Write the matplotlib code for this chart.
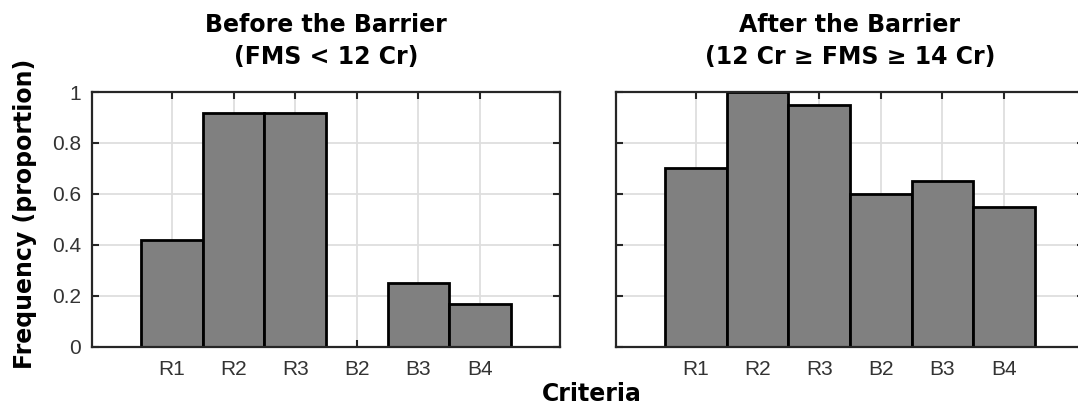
import matplotlib
matplotlib.use("Agg")
import matplotlib.pyplot as plt
from matplotlib.ticker import FuncFormatter

# criteria and observed proportions
criteria = ["R1", "R2", "R3", "B2", "B3", "B4"]
before_freq = [0.417, 0.917, 0.917, 0.0, 0.25, 0.167]
after_freq = [0.70, 1.00, 0.95, 0.60, 0.65, 0.55]
titles = ["Before the Barrier\n(FMS < 12 Cr)",
          "After the Barrier\n(12 Cr \u2265 FMS \u2265 14 Cr)"]
yticks = [0, 0.2, 0.4, 0.6, 0.8, 1.0]

axis_col = "#262626"
bold_font = "DejaVu Sans"
tick_font = "Liberation Sans"

fig = plt.figure(figsize=(10.78, 4.08), dpi=100)
ax1 = fig.add_axes([0.0853, 0.1507, 0.4341, 0.6238])
ax2 = fig.add_axes([0.5714, 0.1507, 0.4341, 0.6238])

x = list(range(1, len(criteria) + 1))


def fmt(v, pos):
    return "%g" % round(v, 2)


for ax, vals, title in zip([ax1, ax2], [before_freq, after_freq], titles):
    ax.bar(x, vals, width=1.0, color="#808080", edgecolor="black",
           linewidth=2, zorder=3)
    ax.set_xlim(-0.3, 7.3)
    ax.set_ylim(0, 1)
    ax.set_xticks(x)
    ax.set_xticklabels(criteria)
    ax.set_yticks(yticks)
    ax.yaxis.set_major_formatter(FuncFormatter(fmt))
    ax.grid(True, color="#dedede", linewidth=1.3, zorder=0)
    ax.set_axisbelow(True)
    ax.tick_params(direction="in", length=5, width=1.5, color=axis_col,
                   top=True, right=True)
    ax.tick_params(axis="x", pad=10)
    ax.tick_params(axis="y", pad=8)
    for sp in ax.spines.values():
        sp.set_color(axis_col)
        sp.set_linewidth(1.6)
        sp.set_zorder(4)
    ax.set_title(title, fontfamily=bold_font, fontweight="bold",
                 fontsize=17, pad=20, linespacing=1.45)

ax2.tick_params(labelleft=False)

# tick label fonts, set last so nothing overrides them
for ax in (ax1, ax2):
    for lab in ax.get_xticklabels() + ax.get_yticklabels():
        lab.set_fontfamily(tick_font)
        lab.set_fontsize(15)
        lab.set_color("#333333")

fig.text(0.023, 0.475, "Frequency (proportion)", rotation=90, ha="center",
         va="center", fontfamily=bold_font, fontweight="bold", fontsize=17)
fig.text(0.549, 0.035, "Criteria", ha="center", va="center",
         fontfamily=bold_font, fontweight="bold", fontsize=17)

fig.savefig("out.png", dpi=100)
